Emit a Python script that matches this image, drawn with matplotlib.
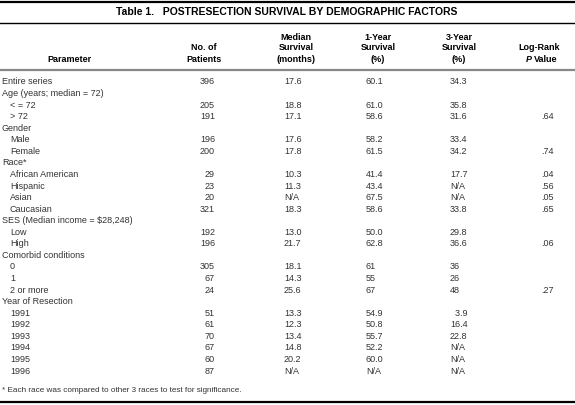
import matplotlib
matplotlib.use("Agg")
import matplotlib.pyplot as plt

plt.rcParams['font.family'] = ['Liberation Sans', 'DejaVu Sans']

# table contents, row by row (indent 1 = sub item)
labels = ["Entire series", "Age (years; median = 72)", "< = 72", "> 72",
          "Gender", "Male", "Female",
          "Race*", "African American", "Hispanic", "Asian", "Caucasian",
          "SES (Median income = $28,248)", "Low", "High",
          "Comorbid conditions", "0", "1", "2 or more",
          "Year of Resection", "1991", "1992", "1993", "1994", "1995", "1996"]
indent = [0, 0, 1, 1, 0, 1, 1, 0, 1, 1, 1, 1, 0, 1, 1, 0, 1, 1, 1, 0, 1, 1, 1, 1, 1, 1]
patients = ["396", "", "205", "191", "", "196", "200", "", "29", "23", "20", "321",
            "", "192", "196", "", "305", "67", "24", "", "51", "61", "70", "67", "60", "87"]
median_surv = ["17.6", "", "18.8", "17.1", "", "17.6", "17.8", "", "10.3", "11.3", "N/A", "18.3",
               "", "13.0", "21.7", "", "18.1", "14.3", "25.6", "", "13.3", "12.3", "13.4", "14.8", "20.2", "N/A"]
one_year = ["60.1", "", "61.0", "58.6", "", "58.2", "61.5", "", "41.4", "43.4", "67.5", "58.6",
            "", "50.0", "62.8", "", "61", "55", "67", "", "54.9", "50.8", "55.7", "52.2", "60.0", "N/A"]
three_year = ["34.3", "", "35.8", "31.6", "", "33.4", "34.2", "", "17.7", "N/A", "N/A", "33.8",
              "", "29.8", "36.6", "", "36", "26", "48", "", "  3.9", "16.4", "22.8", "N/A", "N/A", "N/A"]
p_value = ["", "", "", ".64", "", "", ".74", "", ".04", ".56", ".05", ".65",
           "", "", ".06", "", "", "", ".27", "", "", "", "", "", "", ""]

headers = [["", "", "Parameter"],
           ["", "No. of", "Patients"],
           ["Median", "Survival", "(months)"],
           ["1-Year", "Survival", "(%)"],
           ["3-Year", "Survival", "(%)"],
           ["", "Log-Rank", None]]

fig = plt.figure(figsize=(5.75, 4.05), dpi=100)
ax = fig.add_axes([0, 0, 1, 1])
ax.set_xlim(0, 575)
ax.set_ylim(405, 0)
ax.axis('off')

body = dict(fontsize=6.5, color='#333333', va='center')
head = dict(fontsize=6.5, color='black', fontweight='bold', va='center', ha='center')

# rules
ax.plot([0, 575], [1.5, 1.5], color='black', lw=1.6)
ax.plot([0, 575], [23, 23], color='black', lw=1.0)
ax.plot([0, 575], [70, 70], color='#888888', lw=1.6)
ax.plot([0, 575], [402, 402], color='black', lw=1.6)

ax.text(287, 12, "Table 1.   POSTRESECTION SURVIVAL BY DEMOGRAPHIC FACTORS",
        fontsize=7.5, fontweight='bold', ha='center', va='center')

# header block
hx = [69, 204, 296, 378, 459, 539]
hy = [37, 48, 59]
for x, lines in zip(hx, headers):
    for y, s in zip(hy, lines):
        if s:
            ax.text(x, y, s, **head)
ax.text(546, 59, "Value", **head)
ax.text(529, 59, "P", fontsize=6.5, fontweight='bold', fontstyle='italic',
        va='center', ha='center')

y0, dy = 82, 11.56
for i, lab in enumerate(labels):
    y = y0 + i * dy
    ax.text(2 + 8 * indent[i], y, lab, ha='left', **body)
    ax.text(215, y, patients[i], ha='right', **body)
    ax.text(284, y, median_surv[i], ha='left', **body)
    ax.text(366, y, one_year[i], ha='left', **body)
    ax.text(450, y, three_year[i], ha='left', **body)
    ax.text(541, y, p_value[i], ha='left', **body)

ax.text(2, 390, "* Each race was compared to other 3 races to test for significance.",
        ha='left', fontsize=5.9, color='#333333', va='center')

fig.savefig("out.png", dpi=100)
